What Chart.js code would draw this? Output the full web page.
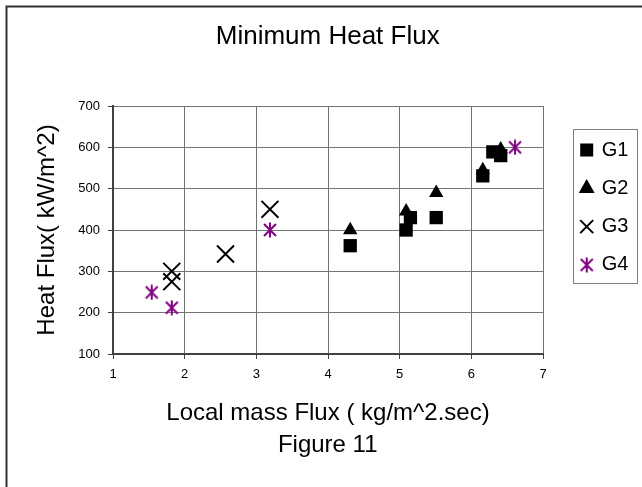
<!DOCTYPE html>
<html>
<head>
<meta charset="utf-8">
<script src="https://cdn.jsdelivr.net/npm/chart.js@4.4.0/dist/chart.umd.min.js"></script>
<style>
html,body{margin:0;padding:0;background:#fff;}
canvas{display:block;}
</style>
</head>
<body>
<canvas id="c" width="642" height="487"></canvas>
<script>
// ---- data ----
const seriesNames = ['G1', 'G2', 'G3', 'G4'];
const g1X = [4.31, 5.09, 5.15, 5.51, 6.16, 6.30, 6.41];
const g1Y = [362, 400, 430, 430, 531, 589, 580];
const g2X = [4.31, 5.09, 5.51, 6.16, 6.41];
const g2Y = [400, 445, 490, 545, 595];
const g3X = [1.82, 1.82, 2.57, 3.19];
const g3Y = [300, 275, 342, 450];
const g4X = [1.54, 1.82, 3.19, 6.61];
const g4Y = [249, 212, 400, 600];
const xTicks = [1, 2, 3, 4, 5, 6, 7];
const yTicks = [100, 200, 300, 400, 500, 600, 700];
const chartTitle = 'Minimum Heat Flux';
const xTitle = 'Local mass Flux ( kg/m^2.sec)';
const yTitle = 'Heat Flux( kW/m^2)';
const caption = 'Figure 11';

function pts(xs, ys) { return xs.map((x, i) => ({ x: x, y: ys[i] })); }

function makeAsterisk() {
  const c = document.createElement('canvas');
  c.width = 16; c.height = 16;
  const g = c.getContext('2d');
  g.strokeStyle = '#800080';
  g.lineWidth = 2;
  g.beginPath();
  g.moveTo(8, 0.5); g.lineTo(8, 15.5);
  g.moveTo(2, 2); g.lineTo(14, 14);
  g.moveTo(14, 2); g.lineTo(2, 14);
  g.stroke();
  return c;
}

Chart.defaults.font.family = "'Liberation Sans', Arial, sans-serif";
Chart.defaults.color = '#000';

const framePlugin = {
  id: 'frame',
  beforeDraw(chart) {
    const lg = chart.legend;
    if (lg) { lg.left = 563.4; lg.top = 121.7; lg.right = 637; lg.bottom = 330; }
  },
  afterDraw(chart) {
    const ctx = chart.ctx;
    ctx.save();
    ctx.strokeStyle = '#808080';
    ctx.lineWidth = 1;
    ctx.strokeRect(573.5, 129.5, 64, 154);
    ctx.strokeStyle = '#333';
    ctx.lineWidth = 2;
    ctx.beginPath();
    ctx.moveTo(6.5, 487); ctx.lineTo(6.5, 6.5); ctx.lineTo(642, 6.5);
    ctx.stroke();
    ctx.restore();
  }
};

new Chart(document.getElementById('c'), {
  type: 'scatter',
  data: {
    datasets: [
      { label: seriesNames[0], data: pts(g1X, g1Y), pointStyle: 'rect', pointRadius: 9.4,
        backgroundColor: '#000', borderColor: '#000', borderWidth: 0 },
      { label: seriesNames[1], data: pts(g2X, g2Y), pointStyle: 'triangle', pointRadius: 8.3,
        backgroundColor: '#000', borderColor: '#000', borderWidth: 0 },
      { label: seriesNames[2], data: pts(g3X, g3Y), pointStyle: 'crossRot', pointRadius: 12,
        backgroundColor: '#000', borderColor: '#000', borderWidth: 2 },
      { label: seriesNames[3], data: pts(g4X, g4Y), pointStyle: makeAsterisk(), pointRadius: 8,
        backgroundColor: '#800080', borderColor: '#800080', borderWidth: 2 }
    ]
  },
  options: {
    responsive: false,
    animation: false,
    events: [],
    layout: { padding: { left: 42.4, right: 29, top: 0, bottom: 0 } },
    plugins: {
      title: { display: true, text: chartTitle, color: '#000',
        font: { size: 26, weight: 'normal' }, padding: { top: 21, bottom: 53.8 } },
      subtitle: { display: true, position: 'bottom', text: caption, color: '#000',
        font: { size: 24, weight: 'normal' }, padding: { top: 0, bottom: 27.6 } },
      legend: { display: true, position: 'right', align: 'start', maxWidth: 70,
        labels: { usePointStyle: true, boxWidth: 10, boxHeight: 13, padding: 18.3,
          color: '#000', font: { size: 20 } } },
      tooltip: { enabled: false }
    },
    scales: {
      x: {
        type: 'linear', min: 1, max: 7,
        afterBuildTicks: (s) => { s.ticks = xTicks.map(v => ({ value: v })); },
        ticks: { color: '#000', font: { size: 13 }, padding: 7.5 },
        grid: { color: '#737373', tickColor: '#404040', tickLength: 5 },
        border: { color: '#404040', width: 2 },
        title: { display: true, text: xTitle, color: '#000', font: { size: 24 },
          padding: { top: 0, bottom: 2.9 } },
        afterFit: (s) => { s.height = 76.6; }
      },
      y: {
        type: 'linear', min: 100, max: 700,
        afterBuildTicks: (s) => { s.ticks = yTicks.map(v => ({ value: v })); },
        ticks: { color: '#000', font: { size: 13 }, padding: 8 },
        grid: { color: '#737373', tickColor: '#404040', tickLength: 5 },
        border: { color: '#404040', width: 2 },
        title: { display: true, text: yTitle, color: '#000', font: { size: 24 },
          padding: { top: -9.2, bottom: 0 } },
        afterFit: (s) => { s.width = 70.6; }
      }
    }
  },
  plugins: [framePlugin]
});
</script>
</body>
</html>
